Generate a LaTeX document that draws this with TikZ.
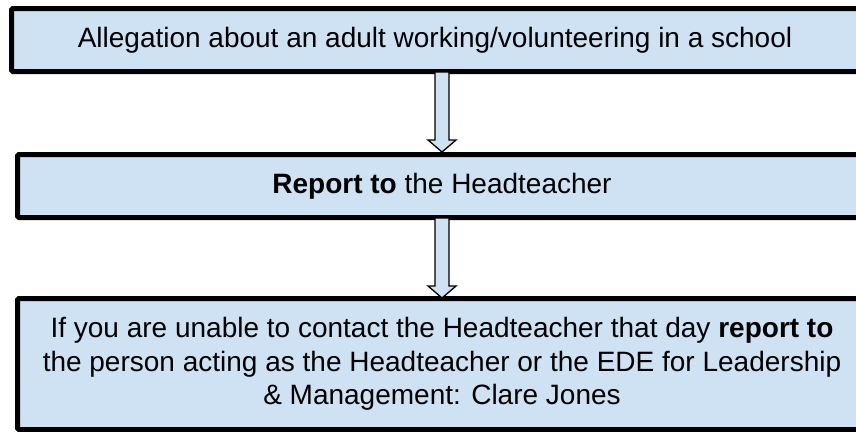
\documentclass[tikz,border=0pt]{standalone}
\usepackage{fontspec}
\setmainfont{Liberation Sans}
\definecolor{boxblue}{HTML}{CFE2F3}
\begin{document}
\begin{tikzpicture}[x=1pt,y=-1pt,
  flowbox/.style={draw=black, line width=5pt, fill=boxblue, rounded corners=1.5pt,
    inner sep=0pt, align=center, font=\fontsize{28}{33.5}\selectfont},
  bigarrow/.style={draw=black, line width=1.3pt, fill=boxblue, line join=miter}]
\useasboundingbox (0,0) rectangle (856,431);
\clip (0,0) rectangle (856,431);
\node[flowbox, minimum width=847pt, minimum height=63pt] (b1) at (435,40)
  {Allegation about an adult working/volunteering in a school};
\node[flowbox, minimum width=849pt, minimum height=63pt] (b2) at (442,186)
  {\textbf{Report to} the Headteacher};
\node[flowbox, minimum width=849pt, minimum height=131pt] (b3) at (442,364)
  {If you are unable to contact the Headteacher that day \textbf{report to}\\
   the person acting as the Headteacher or the EDE for Leadership\\
   \& Management: Clare Jones};
% arrow 1
\coordinate (a1top) at (442,72);
\coordinate (a1tip) at (442,152);
\draw[bigarrow] ([xshift=-7pt]a1top) -- ([xshift=-7pt]a1tip |- 0,140) -- ([xshift=-14pt]a1tip |- 0,140)
  -- (a1tip) -- ([xshift=14pt]a1tip |- 0,140) -- ([xshift=7pt]a1tip |- 0,140) -- ([xshift=7pt]a1top) -- cycle;
% arrow 2
\coordinate (a2top) at (442,218);
\coordinate (a2tip) at (442,298);
\draw[bigarrow] ([xshift=-7pt]a2top) -- ([xshift=-7pt]a2tip |- 0,286) -- ([xshift=-14pt]a2tip |- 0,286)
  -- (a2tip) -- ([xshift=14pt]a2tip |- 0,286) -- ([xshift=7pt]a2tip |- 0,286) -- ([xshift=7pt]a2top) -- cycle;
\end{tikzpicture}
\end{document}
